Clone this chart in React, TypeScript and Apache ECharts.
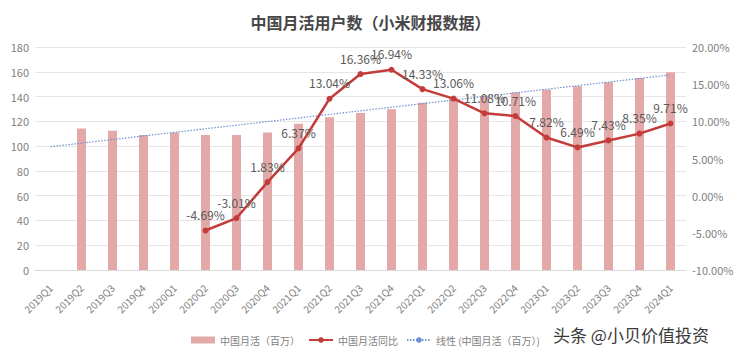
import React, { useEffect, useRef } from "react";
import * as echarts from "echarts";

const categories = [
  "2019Q1", "2019Q2", "2019Q3", "2019Q4",
  "2020Q1", "2020Q2", "2020Q3", "2020Q4",
  "2021Q1", "2021Q2", "2021Q3", "2021Q4",
  "2022Q1", "2022Q2", "2022Q3", "2022Q4",
  "2023Q1", "2023Q2", "2023Q3", "2023Q4",
  "2024Q1",
];

const mau: (number | null)[] = [
  null, 114.3, 112.3, 108.9,
  111.0, 109.0, 108.9, 110.9,
  118.0, 123.2, 126.7, 129.7,
  134.9, 139.3, 140.7, 143.2,
  145.5, 148.3, 151.5, 155.0,
  159.7,
];

const yoy: (number | null)[] = [
  null, null, null, null,
  null, -4.69, -3.01, 1.83,
  6.37, 13.04, 16.36, 16.94,
  14.33, 13.06, 11.08, 10.71,
  7.82, 6.49, 7.43, 8.35,
  9.71,
];

// linear trendline endpoints (first & last category), joined straight
const trend: (number | null)[] = [
  99.5, null, null, null, null, null, null, null, null, null, null,
  null, null, null, null, null, null, null, null, null, 157.5,
];

const leftTicks = { min: 0, max: 180, interval: 20 };
const rightTicks = { min: -10, max: 20, interval: 5 };

export default function App() {
  const ref = useRef<HTMLDivElement>(null);
  useEffect(() => {
    document.body.style.margin = "0";
    const chart = echarts.init(ref.current!, null, { renderer: "svg" });
    const font = "'Noto Sans CJK SC', 'Noto Sans', sans-serif";
    chart.setOption({
      animation: false,
      backgroundColor: "#ffffff",
      textStyle: { fontFamily: font },
      title: {
        text: "中国月活用户数（小米财报数据）",
        left: "center",
        top: 9,
        textStyle: { fontSize: 16, fontWeight: "bold", color: "#474747", fontFamily: font },
      },
      grid: { left: 35, right: 55, top: 47, bottom: 88 },
      legend: {
        left: 186,
        top: 330,
        itemWidth: 24,
        itemHeight: 7,
        itemGap: 8,
        textStyle: { fontSize: 10, color: "#7f7f7f", fontFamily: font },
        data: [
          { name: "中国月活（百万）", icon: "rect" },
          { name: "中国月活同比" },
          { name: "线性 (中国月活（百万）)" },
        ],
      },
      graphic: [
        {
          type: "text",
          left: 553,
          top: 326,
          style: { text: "头条 @小贝价值投资", fontSize: 17, fill: "#3a3a3a", fontFamily: font },
        },
      ],
      xAxis: {
        type: "category",
        data: categories,
        axisLine: { lineStyle: { color: "#d9d9d9" } },
        axisTick: { show: false },
        axisLabel: { rotate: 45, fontSize: 10, color: "#7f7f7f", interval: 0, margin: 16 },
      },
      yAxis: [
        {
          type: "value",
          ...leftTicks,
          axisLine: { show: false },
          axisTick: { show: false },
          axisLabel: { fontSize: 11, color: "#7f7f7f", margin: 6 },
          splitLine: { lineStyle: { color: "#e6e6e6" } },
        },
        {
          type: "value",
          ...rightTicks,
          position: "right",
          axisLine: { show: false },
          axisTick: { show: false },
          axisLabel: {
            fontSize: 11,
            color: "#7f7f7f",
            margin: 6,
            formatter: (v: number) => v.toFixed(2) + "%",
          },
          splitLine: { show: false },
        },
      ],
      series: [
        {
          name: "中国月活（百万）",
          type: "bar",
          data: mau,
          barWidth: 9,
          itemStyle: { color: "#e3a9a9" },
        },
        {
          name: "中国月活同比",
          type: "line",
          yAxisIndex: 1,
          data: yoy,
          symbol: "circle",
          symbolSize: 6,
          lineStyle: { color: "#c43c3a", width: 2.5 },
          itemStyle: { color: "#c43c3a" },
          label: {
            show: true,
            position: "top",
            distance: 7,
            fontSize: 12,
            color: "#595959",
            formatter: (p: any) => p.value.toFixed(2) + "%",
          },
          labelLayout: { hideOverlap: false },
          z: 5,
        },
        {
          name: "线性 (中国月活（百万）)",
          type: "line",
          data: trend,
          connectNulls: true,
          symbol: "none",
          lineStyle: { color: "#6f90d2", width: 1.2, type: [1.5, 1.5] },
          itemStyle: { color: "#6f90d2" },
          z: 3,
        },
      ],
    });
    return () => chart.dispose();
  }, []);
  return <div ref={ref} style={{ width: 741, height: 358 }} />;
}
